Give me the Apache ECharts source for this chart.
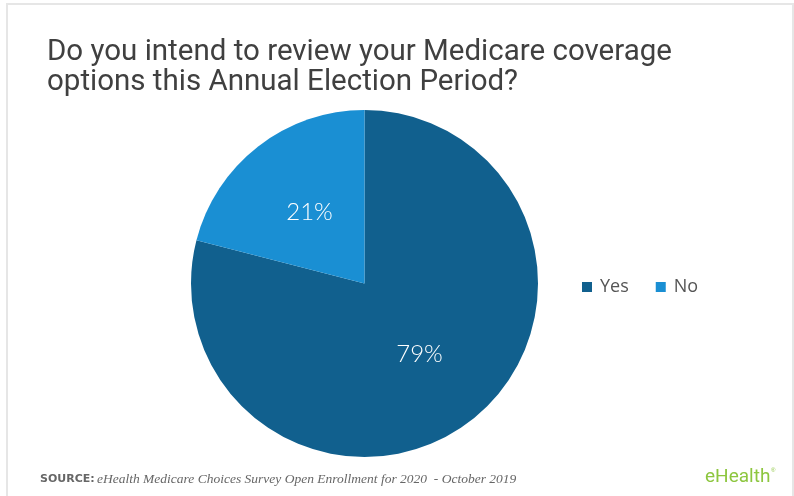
<!DOCTYPE html>
<html>
<head>
<meta charset="utf-8">
<script src="https://cdn.jsdelivr.net/npm/echarts@6/dist/echarts.min.js"></script>
<style>html,body{margin:0;padding:0;background:#fff;}#c{width:794px;height:496px;}</style>
</head>
<body>
<div id="c"></div>
<script>
var categories = ['Yes', 'No'];
var values = [79, 21];
var colors = ['#11608e', '#1a8fd3'];
var titleText = 'Do you intend to review your Medicare coverage\noptions this Annual Election Period?';

var chart = echarts.init(document.getElementById('c'), null, {renderer: 'canvas'});
chart.setOption({
  animation: false,
  backgroundColor: '#fff',
  title: {
    text: titleText,
    left: 42,
    top: 33,
    textStyle: {fontFamily: 'Roboto', fontSize: 29.5, fontWeight: 'normal', color: '#404040', lineHeight: 30}
  },
  legend: {
    data: categories,
    left: 577,
    top: 273,
    orient: 'horizontal',
    itemWidth: 10,
    itemHeight: 10,
    itemGap: 27,
    itemTextStyle: {},
    icon: 'rect',
    textStyle: {fontFamily: 'Open Sans', fontSize: 18, color: '#555', padding: [0, 0, 0, 3]}
  },
  graphic: [
    {type: 'rect', shape: {x: 7, y: 4, width: 786, height: 493}, style: {fill: 'none', stroke: '#e6e6e6', lineWidth: 2}, z: -1},
    {type: 'text', left: 40, top: 474, style: {text: 'SOURCE:', font: 'bold 11px "DejaVu Sans"', fill: '#666'}},
    {type: 'text', left: 97, top: 472, style: {text: 'eHealth Medicare Choices Survey Open Enrollment for 2020  - October 2019', font: 'italic 13.5px "Liberation Serif"', fill: '#666'}},
    {type: 'text', left: 705, top: 468, style: {text: 'eHealth', font: '19px "Roboto"', fill: '#8dc63f'}},
    {type: 'text', left: 771, top: 467, style: {text: '®', font: '6px "Liberation Sans"', fill: '#8dc63f'}}
  ],
  series: [{
    type: 'pie',
    center: [364.5, 283.5],
    radius: [0, 173.5],
    startAngle: 90,
    clockwise: true,
    label: {
      show: true,
      position: 'inside',
      formatter: '{c}%',
      color: '#fff',
      fontFamily: 'Lato',
      fontWeight: 300,
      fontSize: 24
    },
    labelLine: {show: false},
    itemStyle: {borderWidth: 0},
    emphasis: {disabled: true},
    data: categories.map(function (n, i) {
      return {name: n, value: values[i], itemStyle: {color: colors[i]}};
    })
  }]
});
</script>
</body>
</html>
